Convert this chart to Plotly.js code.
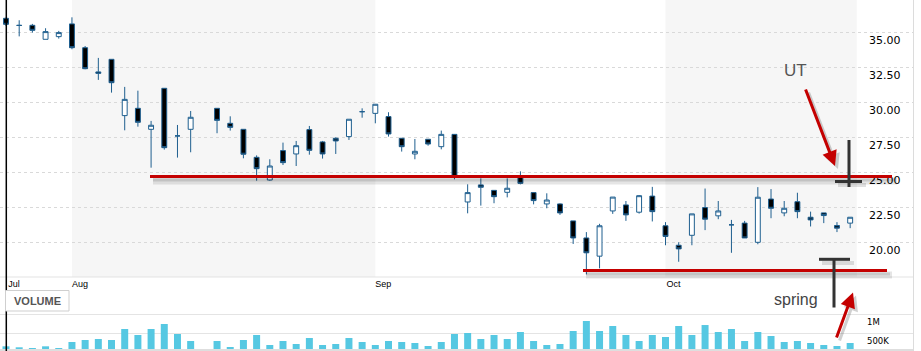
<!DOCTYPE html>
<html><head><meta charset="utf-8">
<script src="https://cdn.plot.ly/plotly-3.0.1.min.js"></script>
<style>html,body{margin:0;padding:0;background:#fff}#chart{width:921px;height:351px}</style>
</head><body><div id="chart"></div>
<script>
// ---- data ----
const dates = [
 '2011-07-25','2011-07-26','2011-07-27','2011-07-28','2011-07-29',
 '2011-08-01','2011-08-02','2011-08-03','2011-08-04','2011-08-05',
 '2011-08-08','2011-08-09','2011-08-10','2011-08-11','2011-08-12',
 '2011-08-15','2011-08-16','2011-08-17','2011-08-18','2011-08-19',
 '2011-08-22','2011-08-23','2011-08-24','2011-08-25','2011-08-26',
 '2011-08-29','2011-08-30','2011-08-31',
 '2011-09-01','2011-09-02',
 '2011-09-05','2011-09-06','2011-09-07','2011-09-08','2011-09-09',
 '2011-09-12','2011-09-13','2011-09-14','2011-09-15','2011-09-16',
 '2011-09-19','2011-09-20','2011-09-21','2011-09-22','2011-09-23',
 '2011-09-26','2011-09-27','2011-09-28','2011-09-29','2011-09-30',
 '2011-10-03','2011-10-04','2011-10-05','2011-10-06','2011-10-07',
 '2011-10-10','2011-10-11','2011-10-12','2011-10-13','2011-10-14',
 '2011-10-17','2011-10-18','2011-10-19','2011-10-20','2011-10-21'
];
const open = [36.0,35.5,35.5,34.5,34.69, 35.6,33.9,32.17,33.07,29.05, 29.57,28.07,31.0,27.6,28.07,
 null,29.57,28.5,28.07,26.07, 24.45,26.55,26.31,28.05,27.17, 27.43,27.55,29.33, 29.21,28.98,
 27.43,26.31,27.36,26.83,27.71, 22.88,24.1,23.71,23.57,24.64, 23.55,22.74,22.74,21.53,20.31,
 19.01,22.24,22.67,22.15,23.3, 21.18,19.79,20.5,22.48,21.89, 21.25,21.37,20.0,23.09,22.1,
 22.9,21.79,22.1,21.2,21.37];
const high = [36.05,35.86,35.6,35.29,35.1, 36.07,34.02,33.17,33.07,31.1, 30.83,28.67,31.0,28.38,29.38,
 null,29.57,29.0,28.07,26.21, 25.93,27.12,27.24,28.31,27.24, 27.5,28.79,29.57, 29.86,29.29,
 27.43,27.38,27.36,27.98,27.71, 24.14,24.57,23.71,24.57,25.07, 23.55,23.5,22.78,21.53,20.73,
 21.32,23.23,22.95,23.37,23.96, 21.44,20.0,22.03,23.84,22.95, 21.6,21.53,23.94,23.8,22.95,
 23.54,22.19,22.1,21.44,21.79];
const low = [35.45,34.71,34.98,34.5,34.55, 33.79,32.36,31.6,30.69,28.0, 28.26,25.33,26.62,26.05,26.43,
 null,27.79,27.98,26.0,24.4, 24.4,25.52,25.45,26.26,25.98, 26.31,27.31,28.9, 28.5,27.55,
 26.48,25.93,26.9,26.64,24.5, 22.07,22.62,22.79,23.21,24.14, 22.71,22.43,21.96,19.88,17.71,
 18.14,22.03,21.53,22.05,21.49, 19.79,18.61,19.79,20.87,21.65, 19.25,20.31,19.86,21.72,21.86,
 21.72,21.13,21.37,20.73,21.01];
const close = [35.57,35.49,35.14,35.05,34.98, 33.9,32.4,32.07,31.4,30.21, 28.57,28.36,26.76,27.6,28.93,
 null,28.71,28.21,26.29,25.26, 25.45,25.69,26.9,26.57,26.31, 27.24,28.79,29.33, 29.86,27.74,
 26.83,26.5,27.02,27.71,24.64, 23.55,23.93,23.26,23.86,24.21, 22.98,23.02,22.1,20.31,19.25,
 21.18,23.23,21.96,23.33,22.19, 20.42,19.53,22.03,21.65,22.24, 21.25,20.31,23.22,22.43,22.43,
 22.19,21.6,21.91,21.01,21.79];
const volume = [154000,128000,109000,154000,109000,269000,322000,348000,322000,614000,
 455000,614000,747000,481000,295000,null,295000,136000,322000,455000,
 189000,295000,215000,375000,189000,215000,375000,269000,189000,295000,
 269000,242000,162000,269000,481000,508000,348000,455000,348000,535000,
 295000,189000,215000,561000,827000,561000,694000,455000,295000,455000,
 402000,694000,455000,720000,535000,614000,295000,535000,428000,269000,
 295000,242000,189000,162000,242000];
const monthStarts = ['2011-07-25','2011-08-01','2011-09-01','2011-10-03'];
const monthLabels = ['Jul','Aug','Sep','Oct'];
const priceTicks = [20,22.5,25,27.5,30,32.5,35];
const volumeTicks = [500000,1000000];
const volumeTickLabels = ['500K','1M'];

// ---- layout helpers (pixels of the plot area) ----
const W = 913, H = 349;
const px = x => x / W;
const py = y => (H - y) / H;
const idx = dates.map((d, i) => i);
const mIdx = monthStarts.map(d => dates.indexOf(d));
const step = 13.19;
const xr0 = -6 / step;
const xr1 = xr0 + W / step;

const candleColor = '#1f5f8f';
const traces = [
  {type:'candlestick', x: idx, open: open, high: high, low: low, close: close,
   xaxis:'x', yaxis:'y', whiskerwidth:0, hoverinfo:'skip', showlegend:false,
   increasing:{line:{color:candleColor, width:1}, fillcolor:'#ffffff'},
   decreasing:{line:{color:candleColor, width:1}, fillcolor:'#000000'}},
  {type:'bar', x: idx, y: volume, xaxis:'x', yaxis:'y2', width:0.53,
   marker:{color:'#56c8e2', line:{width:0}}, hoverinfo:'skip', showlegend:false}
];

const priceBottom = 277;
const L = (x0, y0, x1, y1, color, width) => ({type:'line', xref:'paper', yref:'paper',
  x0:px(x0), x1:px(x1), y0:py(y0), y1:py(y1), line:{color:color, width:width}});
const shapes = [
  {type:'rect', xref:'x', yref:'paper', x0:mIdx[1], x1:mIdx[2], y0:py(priceBottom), y1:1,
   fillcolor:'#f6f6f6', line:{width:0}, layer:'below'},
  {type:'rect', xref:'x', yref:'paper', x0:mIdx[3], x1:idx[idx.length-1]+0.5, y0:py(priceBottom), y1:1,
   fillcolor:'#f6f6f6', line:{width:0}, layer:'below'},
  // borders
  L(0, priceBottom, 913, priceBottom, '#e3e3e3', 1),
  L(0, 350, 913, 350, '#dedede', 2),
  L(913.5, 0, 913.5, 351, '#dcdcdc', 1),
  L(6.3, 0, 6.3, 351, '#000000', 1.5),
  // shadows
  L(153, 181, 897, 181, 'rgba(0,0,0,0.10)', 7),
  L(153, 180, 895, 180, 'rgba(0,0,0,0.12)', 3),
  L(586, 275, 892, 275, 'rgba(0,0,0,0.10)', 7),
  L(586, 274, 890, 274, 'rgba(0,0,0,0.12)', 3),
  L(838, 185, 866, 185, 'rgba(0,0,0,0.12)', 4),
  L(822, 263, 854, 263, 'rgba(0,0,0,0.12)', 4),
  // red level lines
  L(150, 176.5, 892, 176.5, '#c40000', 3),
  L(583, 270.5, 887, 270.5, '#c40000', 3),
  // T marks
  L(849, 140, 849, 187, '#333333', 3),
  L(835, 181.5, 862, 181.5, '#333333', 3),
  L(819, 259.3, 850, 259.3, '#333333', 3),
  L(834, 259, 834, 307.5, '#333333', 3),
  // VOLUME button
  {type:'rect', xref:'paper', yref:'paper', x0:px(5.5), x1:px(69), y0:py(290.5), y1:py(311),
   fillcolor:'#ffffff', line:{color:'#cfcfcf', width:1}}
];

const arrow = (hx, hy, ax, ay, color) => ({xref:'paper', yref:'paper', x:px(hx), y:py(hy), ax:ax, ay:ay,
  axref:'pixel', ayref:'pixel', showarrow:true, arrowhead:2, arrowsize:1, arrowwidth:3,
  arrowcolor:color, text:'', standoff:0});
const annotations = [
  arrow(838, 169, -30, -78, 'rgba(0,0,0,0.18)'),
  arrow(835, 166, -30, -78, '#c40000'),
  arrow(856, 295.5, -17, 46.5, 'rgba(0,0,0,0.18)'),
  arrow(853, 292.5, -17, 46.5, '#c40000'),
  {xref:'paper', yref:'paper', x:px(795), y:py(70), xanchor:'center', yanchor:'middle', text:'UT', showarrow:false,
   font:{family:'Liberation Sans, Arial, sans-serif', size:17, color:'#555555'}},
  {xref:'paper', yref:'paper', x:px(796), y:py(299), xanchor:'center', yanchor:'middle', text:'spring', showarrow:false,
   font:{family:'Liberation Sans, Arial, sans-serif', size:16, color:'#444444'}},
  {xref:'paper', yref:'paper', x:px(37.5), y:py(301), xanchor:'center', yanchor:'middle', text:'<b>VOLUME</b>', showarrow:false,
   font:{family:'Liberation Sans, Arial, sans-serif', size:11, color:'#555555'}}
];

const layout = {
  width:921, height:351, margin:{l:0, r:8, t:0, b:2},
  paper_bgcolor:'#ffffff', plot_bgcolor:'rgba(0,0,0,0)', showlegend:false,
  boxgap:0.47,
  xaxis:{range:[xr0, xr1], anchor:'y', rangeslider:{visible:false}, showgrid:false, zeroline:false,
    showline:false, ticks:'', tickvals:mIdx, ticktext:monthLabels, ticklabelshift:8,
    tickfont:{family:'Liberation Sans, Arial, sans-serif', size:9, color:'#000'}},
  yaxis:{domain:[py(priceBottom), 1], range:[35 - (priceBottom-32.3)/14, 35 + 32.3/14],
    side:'right', anchor:'free', position:px(866), tickvals:priceTicks, ticktext:priceTicks.map(v=>v.toFixed(2)),
    ticks:'', showgrid:true, gridcolor:'#d9d9d9', griddash:'dot', zeroline:false, showline:false,
    ticklabelshift:8, ticklabelstandoff:2,
    tickfont:{family:'DejaVu Sans, Verdana, sans-serif', size:11, color:'#000'}},
  yaxis2:{domain:[0, py(312)], range:[82400, 1066500], side:'right', anchor:'free', position:px(866),
    tickvals:volumeTicks, ticktext:volumeTickLabels, ticks:'', showgrid:true, gridcolor:'#e4e4e4',
    zeroline:false, showline:false, ticklabelshift:8,
    tickfont:{family:'DejaVu Sans, Verdana, sans-serif', size:8.5, color:'#000'}},
  shapes:shapes, annotations:annotations
};
Plotly.newPlot('chart', traces, layout, {staticPlot:true, displayModeBar:false});
</script>
</body></html>
